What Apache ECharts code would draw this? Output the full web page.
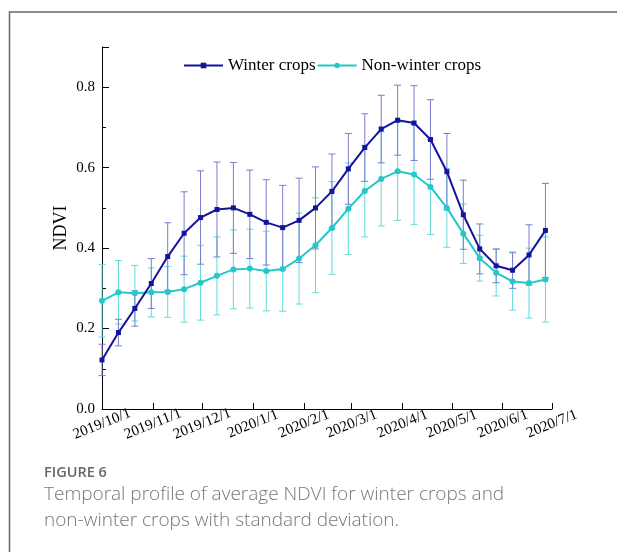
<!DOCTYPE html>
<html>
<head>
<meta charset="utf-8">
<script src="https://cdn.jsdelivr.net/npm/echarts@6/dist/echarts.min.js"></script>
<style>
html,body{margin:0;padding:0;background:#fff;}
#chart{width:617px;height:552px;}
</style>
</head>
<body>
<div id="chart"></div>
<script>
// ---- data ----
const tickLabels = ['2019/10/1','2019/11/1','2019/12/1','2020/1/1','2020/2/1','2020/3/1','2020/4/1','2020/5/1','2020/6/1','2020/7/1'];
const dates = ['2019/10/1','2019/10/11','2019/10/21','2019/10/31','2019/11/10','2019/11/20','2019/11/30',
  '2019/12/10','2019/12/20','2019/12/30','2020/1/9','2020/1/19','2020/1/29','2020/2/8','2020/2/18','2020/2/28',
  '2020/3/9','2020/3/19','2020/3/29','2020/4/8','2020/4/18','2020/4/28','2020/5/8','2020/5/18','2020/5/28',
  '2020/6/7','2020/6/17','2020/6/27'];
const winter = [0.122,0.190,0.250,0.312,0.379,0.437,0.476,0.496,0.500,0.484,0.464,0.451,0.469,0.500,
  0.541,0.597,0.650,0.696,0.718,0.711,0.670,0.590,0.483,0.398,0.356,0.345,0.383,0.444];
const winterSD = [0.039,0.033,0.044,0.062,0.084,0.103,0.116,0.118,0.113,0.110,0.106,0.105,0.105,0.102,
  0.093,0.088,0.084,0.084,0.087,0.093,0.099,0.095,0.086,0.062,0.042,0.045,0.075,0.117];
const nonWinter = [0.269,0.290,0.288,0.290,0.291,0.298,0.314,0.331,0.347,0.349,0.343,0.348,0.374,0.407,
  0.450,0.498,0.542,0.572,0.591,0.583,0.552,0.500,0.436,0.375,0.339,0.317,0.313,0.322];
const nonWinterSD = [0.090,0.079,0.069,0.061,0.063,0.082,0.093,0.097,0.098,0.098,0.099,0.105,0.113,0.118,
  0.115,0.114,0.114,0.117,0.122,0.124,0.118,0.098,0.074,0.057,0.058,0.071,0.087,0.106];
const seriesNames = ['Winter crops','Non-winter crops'];

// ---- helpers ----
function ts(s){ const p = s.split('/').map(Number); return Date.UTC(p[0], p[1]-1, p[2]); }
const tickValues = tickLabels.map(ts);
const labelMap = {}; tickLabels.forEach(function(l){ labelMap[ts(l)] = l; });

const winterColor = '#13139c', winterErr = '#7b7bcf';
const nwColor = '#25c8c8', nwErr = '#5fdcdc';
const serif = 'Liberation Serif';

function errRender(color){
  return function(params, api){
    const x = api.value(0), lo = api.value(1), hi = api.value(2);
    const t = api.coord([x, hi]), b = api.coord([x, lo]);
    const w = 3.5, st = {stroke: color, lineWidth: 1};
    return {type:'group', children:[
      {type:'line', shape:{x1:t[0], y1:t[1], x2:b[0], y2:b[1]}, style:st},
      {type:'line', shape:{x1:t[0]-w, y1:t[1], x2:t[0]+w, y2:t[1]}, style:st},
      {type:'line', shape:{x1:b[0]-w, y1:b[1], x2:b[0]+w, y2:b[1]}, style:st}
    ]};
  };
}
function errData(mean, sd){ return dates.map(function(d,i){ return [ts(d), mean[i]-sd[i], mean[i]+sd[i]]; }); }
function lineData(mean){ return dates.map(function(d,i){ return [ts(d), mean[i]]; }); }

const chart = echarts.init(document.getElementById('chart'), null, {renderer:'canvas'});
chart.setOption({
  animation: false,
  backgroundColor: '#fff',
  grid: {left: 102, right: 65, top: 47, bottom: 143},
  legend: {
    data: seriesNames,
    left: 183, top: 57, padding: 0,
    itemWidth: 39, itemHeight: 7, itemGap: 1,
    textStyle: {fontFamily: serif, fontSize: 17, color: '#000'}
  },
  xAxis: {
    type: 'value',
    min: ts(tickLabels[0]), max: ts(tickLabels[tickLabels.length-1]),
    splitLine: {show: false},
    axisLine: {lineStyle: {color: '#000', width: 1}},
    axisTick: {inside: true, length: 6, customValues: tickValues, lineStyle: {color: '#000'}},
    axisLabel: {
      customValues: tickValues,
      formatter: function(v){ return labelMap[v] || ''; },
      rotate: 22, align: 'center', verticalAlign: 'middle', margin: 15,
      fontFamily: serif, fontSize: 15, color: '#000'
    }
  },
  yAxis: {
    type: 'value', min: 0, max: 0.9, interval: 0.2,
    name: 'NDVI', nameLocation: 'middle', nameRotate: 90, nameGap: 32, nameMoveOverlap: false,
    nameTextStyle: {fontFamily: serif, fontSize: 18, color: '#000'},
    splitLine: {show: false},
    axisLine: {show: true, lineStyle: {color: '#000', width: 1}},
    axisTick: {show: true, inside: true, length: 7, lineStyle: {color: '#000'}},
    minorTick: {show: true, splitNumber: 2, length: 4, lineStyle: {color: '#000'}},
    axisLabel: {
      formatter: function(v){ return v.toFixed(1); },
      showMaxLabel: false, margin: 7,
      fontFamily: serif, fontSize: 15, color: '#000'
    }
  },
  series: [
    {type:'custom', name:'nwErr', renderItem: errRender(nwErr), data: errData(nonWinter, nonWinterSD),
     encode:{x:0, y:[1,2]}, z: 1, silent: true},
    {type:'custom', name:'wErr', renderItem: errRender(winterErr), data: errData(winter, winterSD),
     encode:{x:0, y:[1,2]}, z: 2, silent: true},
    {type:'line', name: seriesNames[1], data: lineData(nonWinter), symbol:'circle', symbolSize: 6,
     color: nwColor, lineStyle:{width: 2, color: nwColor}, itemStyle:{color: nwColor}, z: 3},
    {type:'line', name: seriesNames[0], data: lineData(winter), symbol:'rect', symbolSize: 5,
     color: winterColor, lineStyle:{width: 2, color: winterColor}, itemStyle:{color: winterColor}, z: 4}
  ],
  graphic: [
    {type:'polyline', shape:{points:[[9.5,552],[9.5,12],[617,12]]}, style:{stroke:'#666', lineWidth:1.5, fill:null}},
    {type:'text', left: 44, top: 465, style:{text:'FIGURE 6', fontFamily:'Open Sans', fontSize:14.5, fontWeight:600, fill:'#666'}},
    {type:'text', left: 44, top: 485, style:{text:'Temporal profile of average NDVI for winter crops and', fontFamily:'Open Sans', fontSize:19, fontWeight:300, fill:'#777'}},
    {type:'text', left: 44, top: 511, style:{text:'non-winter crops with standard deviation.', fontFamily:'Open Sans', fontSize:19, fontWeight:300, fill:'#777'}}
  ]
});
</script>
</body>
</html>
